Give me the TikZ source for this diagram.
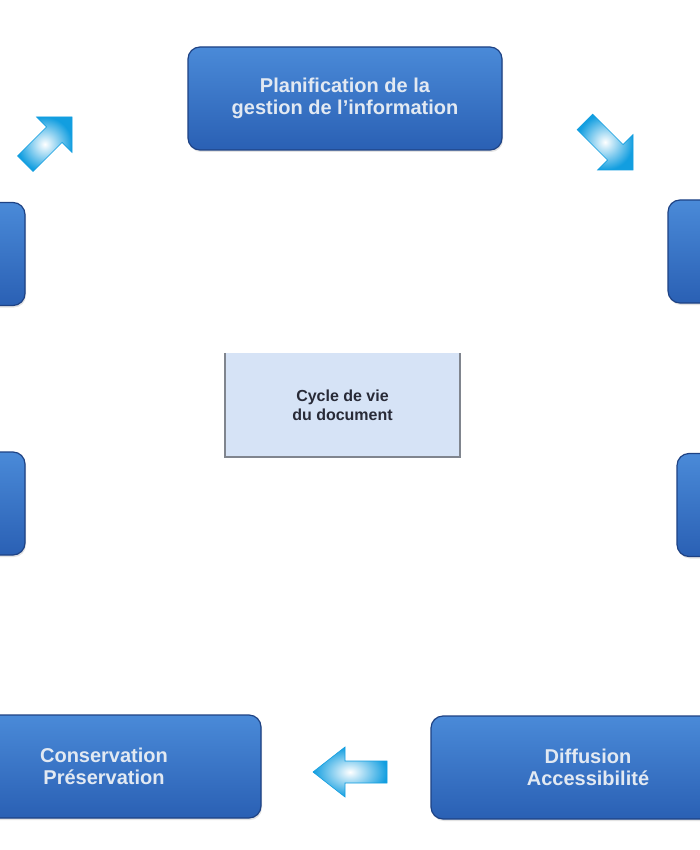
\documentclass[tikz,border=0pt]{standalone}
\usepackage{fontspec}
\setmainfont{Liberation Sans}
\usetikzlibrary{shadows}
\definecolor{boxtop}{RGB}{74,138,216}
\definecolor{boxbot}{RGB}{42,96,180}
\definecolor{boxedge}{RGB}{30,66,132}
\definecolor{boxtext}{RGB}{226,233,242}
\definecolor{centerfill}{RGB}{214,227,246}
\definecolor{centeredge}{RGB}{128,133,142}
\definecolor{centertext}{RGB}{40,42,55}
\definecolor{arrowcyan}{RGB}{18,158,224}
\newcommand\cyanarrow[5]{% tip coordinate, angle, length, head length, head half-width
  \begin{scope}[shift={(#1)}, rotate=#2]
    \shade[inner color=white, outer color=arrowcyan, draw=arrowcyan, line width=0.6pt]
      (0,0) -- (-#4,#5) -- (-#4,11) -- (-#3,11) -- (-#3,-11) -- (-#4,-11) -- (-#4,-#5) -- cycle;
  \end{scope}}
\begin{document}
\begin{tikzpicture}[x=1pt,y=-1pt,
  stagebox/.style={rounded corners=12pt, minimum width=314pt, minimum height=103pt,
    top color=boxtop, bottom color=boxbot, draw=boxedge, line width=1.2pt,
    text=boxtext, font=\fontsize{20}{22.5}\selectfont\bfseries, align=center,
    drop shadow={shadow xshift=1pt, shadow yshift=-2pt, opacity=0.22}},
  centerbox/.style={minimum width=235pt, minimum height=104pt, fill=centerfill,
    text=centertext, font=\fontsize{16}{19}\selectfont\bfseries, align=center}]
\useasboundingbox (0,0) rectangle (700,850);
\fill[white] (0,0) rectangle (700,850);
\clip (0,0) rectangle (700,850);

\node[stagebox] (plan) at (345,98.5) {Planification de la\\gestion de l'information};
\node[stagebox] (lu) at (-132,254) {};
\node[stagebox] (ru) at (825,251.5) {};
\node[stagebox] (ll) at (-132,503.5) {};
\node[stagebox] (rl) at (834,505) {};
\node[stagebox] (cons) at (104,766.5) {Conservation\\Préservation};
\node[stagebox] (diff) at (588,767.5) {Diffusion\\Accessibilité};

\node[centerbox] (cyc) at (342.5,405) {Cycle de vie\\du document};
\draw[centeredge, line width=2pt] (cyc.north west) -- (cyc.south west) -- (cyc.south east) -- (cyc.north east);

\coordinate (tipA) at (72,117);
\coordinate (tipB) at (633,170);
\coordinate (tipC) at (313,772);
\cyanarrow{tipA}{45}{66}{25}{25}
\cyanarrow{tipB}{-45}{68}{25}{25}
\cyanarrow{tipC}{180}{74}{32}{25}
\end{tikzpicture}
\end{document}
